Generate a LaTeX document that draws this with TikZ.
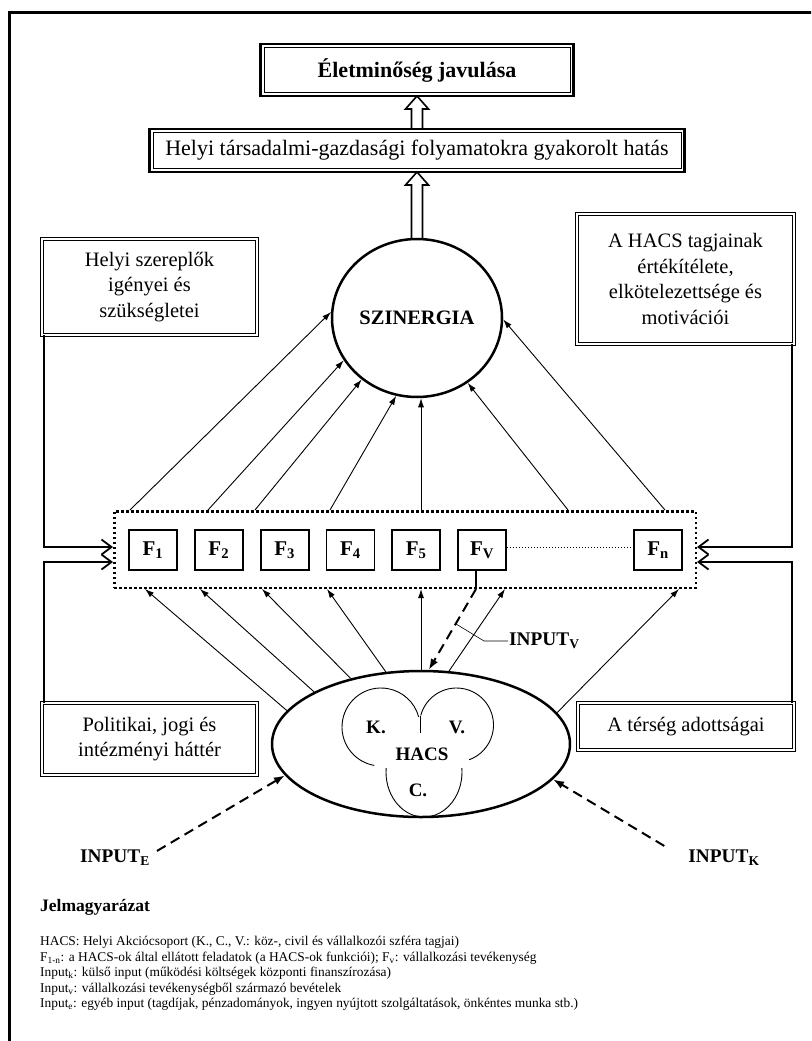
\documentclass[tikz,border=0pt]{standalone}
\usepackage{fontspec}
\setmainfont{Liberation Serif}
\usetikzlibrary{arrows.meta,positioning,shapes.geometric,calc}

% hollow block arrow, #1 = foot, #2 = tip (same x)
\newcommand{\hollowup}[2]{%
  \draw[line width=1.6pt,line join=miter]
    ($(#1)+(-5.5,0)$) -- ($(#2)+(-5.5,13)$) -- ($(#2)+(-11.5,13)$) -- (#2)
    -- ($(#2)+(11.5,13)$) -- ($(#2)+(5.5,13)$) -- ($(#1)+(5.5,0)$);}

\begin{document}
\begin{tikzpicture}[x=1pt,y=-1pt,
  dbox/.style={draw,double,double distance=2pt,line width=1pt,inner sep=0pt,outer sep=0pt,align=center,font=\fontsize{20.5}{25.5}\selectfont},
  tbox/.style={draw,line width=2.6pt,inner sep=0pt,outer sep=0pt,align=center,font=\fontsize{22}{26}\selectfont,
    append after command={\pgfextra{\draw[line width=0.7pt] ($(\tikzlastnode.south west)+(3.5,-3.5)$) rectangle ($(\tikzlastnode.north east)+(-3.5,3.5)$);}}},
  fcell/.style={draw,line width=1.8pt,minimum width=48pt,minimum height=40pt,inner sep=0pt,font=\fontsize{21}{25}\selectfont\bfseries},
  arr/.style={line width=0.9pt,-{Latex[length=9pt,width=6pt]}},
  dasharr/.style={line width=2pt,dash pattern=on 10pt off 6pt,-{Latex[length=11pt,width=8pt]}},
  sidearr/.style={line width=1.8pt,-{Straight Barb[length=10pt,width=15pt]}},
  lobe/.style={line width=0.9pt},
  inlabel/.style={inner sep=1pt,font=\fontsize{19.3}{22}\selectfont\bfseries},
  leg/.style={anchor=base west,inner sep=0pt,font=\fontsize{13.4}{15.5}\selectfont}]
\useasboundingbox (0,0) rectangle (811,1041);
\clip (0,0) rectangle (811,1041);
\draw[line width=3pt] (9.5,12.5) rectangle (840,1070);

% upper part
\node[tbox,minimum width=313pt,minimum height=52pt,font=\fontsize{22}{26}\selectfont\bfseries] (elet) at (417,70) {Életminőség javulása};
\node[tbox,minimum width=535pt,minimum height=43pt] (hatas) at (417,150.5) {Helyi társadalmi-gazdasági folyamatokra gyakorolt hatás};
\node[ellipse,draw,line width=2.5pt,minimum width=170pt,minimum height=158pt,inner sep=0pt,font=\fontsize{20.5}{24}\selectfont\bfseries] (szin) at (417,318) {SZINERGIA};
\hollowup{hatas.north}{elet.south}
\hollowup{szin.north}{hatas.south}

\node[dbox,minimum width=215pt,minimum height=96pt] (helyi) at (149.5,287) {Helyi szereplők\\igényei és\\szükségletei};
\node[dbox,minimum width=217pt,minimum height=130pt] (hacstag) at (685.5,279) {A HACS tagjainak\\értékítélete,\\elkötelezettsége és\\motivációi};
\node[dbox,minimum width=215pt,minimum height=72pt] (polit) at (149.5,739) {Politikai, jogi és\\intézményi háttér};
\node[dbox,minimum width=216pt,minimum height=47pt] (terseg) at (686,726.5) {A térség adottságai};

% functions
\node[draw,line width=2.5pt,dash pattern=on 2.5pt off 2.5pt,minimum width=581.5pt,minimum height=76.5pt] (fbox) at (405,549.5) {};
\node[fcell] (f1) at (153,550) {F\textsubscript{1}};
\node[fcell,right=16pt of f1] (f2) {F\textsubscript{2}};
\node[fcell,right=16pt of f2] (f3) {F\textsubscript{3}};
\node[fcell,right=16pt of f3] (f4) {F\textsubscript{4}};
\node[fcell,right=16pt of f4] (f5) {F\textsubscript{5}};
\node[fcell,right=16pt of f5] (fv) {F\textsubscript{V}};
\node[fcell] (fn) at (658,550) {F\textsubscript{n}};
\draw[line width=1pt,dash pattern=on 1.5pt off 1.5pt] ($(fv.east)+(0,-3)$) -- ($(fn.west)+(0,-3)$);

% HACS
\node[ellipse,draw,line width=2.5pt,minimum width=298pt,minimum height=146pt,inner sep=0pt] (hacs) at (421,744) {};
\draw[lobe] ($(hacs)+(-40,-17)+(100:39)$) arc[start angle=100,end angle=345,radius=39];
\draw[lobe] ($(hacs)+(35.5,-19)+(195:37)$) arc[start angle=195,end angle=430,radius=37];
\draw[lobe] ($(hacs)+(-1,-28)$) -- ($(hacs)+(-1,-11)$);
\draw[lobe] ($(hacs)+(3,28)+(185:38 and 45)$) arc[start angle=185,end angle=-5,x radius=38,y radius=45];
\node[font=\fontsize{19}{22}\selectfont\bfseries] (k) at ($(hacs)+(-45,-17)$) {K.};
\node[font=\fontsize{19}{22}\selectfont\bfseries] (v) at ($(hacs)+(36,-17)$) {V.};
\node[font=\fontsize{19}{22}\selectfont\bfseries] (hacstxt) at ($(hacs)+(1,10)$) {HACS};
\node[font=\fontsize{19}{22}\selectfont\bfseries] (c) at ($(hacs)+(-3,46)$) {C.};

% from HACS to the functions
\draw[arr] (hacs.166.8) -- ($(fbox.south west)+(32,0)$);
\draw[arr] (hacs.154.7) -- ($(fbox.south west)+(87,0)$);
\draw[arr] (hacs.137.5) -- ($(fbox.south west)+(149,0)$);
\draw[arr] (hacs.116.9) -- ($(fbox.south west)+(214,0)$);
\draw[arr] (hacs.north) -- (hacs.north |- fbox.south);
\draw[arr] (hacs.69.9) -- ($(fbox.south west)+(392,0)$);
\draw[arr] (hacs.13.3) -- ($(fbox.south west)+(566,0)$);

% from the functions to synergy
\draw[arr] ($(fbox.north west)+(17,0)$) -- (szin.176);
\draw[arr] ($(fbox.north west)+(95,0)$) -- (szin.210);
\draw[arr] ($(fbox.north west)+(142,0)$) -- (szin.228);
\draw[arr] ($(fbox.north west)+(217,0)$) -- (szin.255);
\draw[arr] (hacs.north |- fbox.north) -- (szin.south -| hacs.north);
\draw[arr] ($(fbox.north west)+(455,0)$) -- (szin.308);
\draw[arr] ($(fbox.north west)+(552,0)$) -- (szin.359);

% side inputs
\draw[sidearr] ($(helyi.south west)+(2,0)$) |- ($(fbox.west)+(0,-2.5)$);
\draw[sidearr] ($(polit.north west)+(2,0)$) |- ($(fbox.west)+(0,12.5)$);
\draw[sidearr] ($(hacstag.south east)+(-2,0)$) |- ($(fbox.east)+(0,-2.5)$);
\draw[sidearr] ($(terseg.north east)+(-2,0)$) |- ($(fbox.east)+(0,12.5)$);

% inputs
\node[inlabel] (inpute) at (115,858) {INPUT\textsubscript{E}};
\node[inlabel] (inputk) at (724,858) {INPUT\textsubscript{K}};
\node[inlabel,anchor=west] (inputv) at (508,641) {INPUT\textsubscript{V}};
\draw[dasharr] ($(inpute.north east)+(6,2)$) -- (hacs.193.6);
\draw[dasharr] ($(inputk.north west)+(-23,-3)$) -- (hacs.345);
\draw[line width=2pt] ($(fv.south)+(-6,0)$) -- ($(fv.south |- fbox.south)+(-6,0)$) coordinate (vstart);
\draw[dasharr] (vstart) -- coordinate[pos=0.43] (vmid) (hacs.84.5);
\draw[line width=0.6pt] (vmid) -- ($(inputv.west)+(-24,0)$) -- (inputv.west);

% legend
\node[anchor=base west,inner sep=0pt,font=\fontsize{17.5}{20}\selectfont\bfseries] (jel) at (40,911) {Jelmagyarázat};
\node[leg] (l1) at (40,945.5) {HACS: Helyi Akciócsoport (K., C., V.: köz-, civil és vállalkozói szféra tagjai)};
\node[leg] (l2) at (40,961) {F\textsubscript{1-n}: a HACS-ok által ellátott feladatok (a HACS-ok funkciói); F\textsubscript{v}: vállalkozási tevékenység};
\node[leg] (l3) at (40,976.5) {Input\textsubscript{k}: külső input (működési költségek központi finanszírozása)};
\node[leg] (l4) at (40,992) {Input\textsubscript{v}: vállalkozási tevékenységből származó bevételek};
\node[leg] (l5) at (40,1007.5) {Input\textsubscript{e}: egyéb input (tagdíjak, pénzadományok, ingyen nyújtott szolgáltatások, önkéntes munka stb.)};
\end{tikzpicture}
\end{document}
